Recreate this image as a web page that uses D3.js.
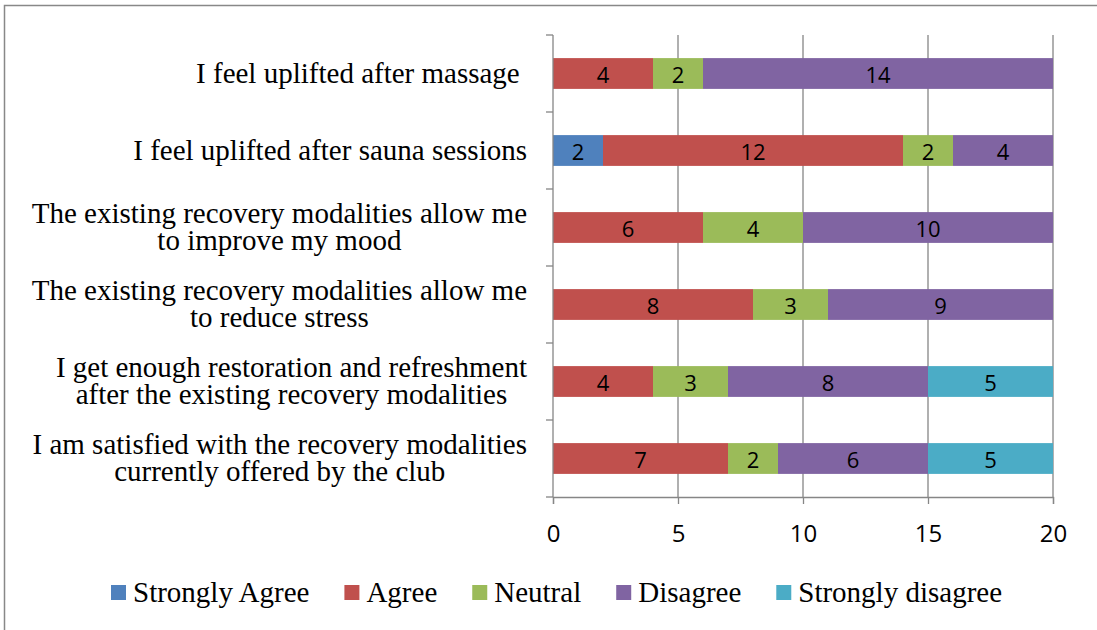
<!DOCTYPE html>
<html><head><meta charset="utf-8">
<script src="https://cdn.jsdelivr.net/npm/d3@7"></script>
<style>body{margin:0;background:#fff}svg{display:block}</style>
</head><body>
<svg id="c" width="1097" height="630"></svg>
<script>
const categories = [
  ["I feel uplifted after massage "],
  ["I feel uplifted after sauna sessions"],
  ["The existing recovery modalities allow me", "to improve my mood"],
  ["The existing recovery modalities allow me", "to reduce stress"],
  ["I get enough restoration and refreshment", "after the existing recovery modalities"],
  ["I am satisfied with the recovery modalities", "currently offered by the club"]
];
const seriesNames = ["Strongly Agree", "Agree", "Neutral", "Disagree", "Strongly disagree"];
const stronglyAgree = [0, 2, 0, 0, 0, 0];
const agree = [4, 12, 6, 8, 4, 7];
const neutral = [2, 2, 4, 3, 3, 2];
const disagree = [14, 4, 10, 9, 8, 6];
const stronglyDisagree = [0, 0, 0, 0, 5, 5];
const xTicks = [0, 5, 10, 15, 20];
const colors = ["#4F81BD", "#C0504D", "#9BBB59", "#8064A2", "#4BACC6"];

const series = [stronglyAgree, agree, neutral, disagree, stronglyDisagree];
const svg = d3.select("#c");
const serif = "'Liberation Serif','Times New Roman',serif";
const sans = "'Open Sans','Noto Sans',sans-serif";

svg.append("rect").attr("x", 4.5).attr("y", 5.5).attr("width", 1100).attr("height", 640)
  .attr("fill", "none").attr("stroke", "#888").attr("stroke-width", 1.5);

const x = d3.scaleLinear().domain([0, 20]).range([553, 1053]);
const idx = d3.range(categories.length);
const y = d3.scaleBand().domain(idx).range([35, 497]).paddingInner(0.6).paddingOuter(0.3);
const step = y.step();

// gridlines
svg.append("g").selectAll("line").data(xTicks.filter(t => t > 0)).join("line")
  .attr("x1", d => x(d)).attr("x2", d => x(d)).attr("y1", 35).attr("y2", 497)
  .attr("stroke", "#868686").attr("stroke-width", 1.3);

// bars
const rows = idx.map(i => {
  let acc = 0;
  return series.map((s, k) => { const seg = {i, k, x0: acc, x1: acc + s[i], v: s[i]}; acc += s[i]; return seg; });
});
const segs = rows.flat().filter(d => d.v > 0);
const g = svg.append("g");
g.selectAll("rect").data(segs).join("rect")
  .attr("x", d => x(d.x0)).attr("width", d => x(d.x1) - x(d.x0))
  .attr("y", d => y(d.i)).attr("height", y.bandwidth())
  .attr("fill", d => colors[d.k]);
g.selectAll("text").data(segs).join("text")
  .attr("x", d => (x(d.x0) + x(d.x1)) / 2).attr("y", d => y(d.i) + y.bandwidth() / 2 + 9.5)
  .attr("text-anchor", "middle")
  .attr("font-family", sans).attr("font-size", 22).attr("fill", "#000")
  .text(d => d.v);

// y axis
svg.append("line").attr("x1", 553).attr("x2", 553).attr("y1", 35).attr("y2", 497)
  .attr("stroke", "#868686").attr("stroke-width", 1.3);
svg.append("g").selectAll("line").data(d3.range(categories.length + 1)).join("line")
  .attr("x1", 546).attr("x2", 553).attr("y1", d => 35 + d * step).attr("y2", d => 35 + d * step)
  .attr("stroke", "#868686").attr("stroke-width", 1.3);

// x axis
const xa = svg.append("g").attr("transform", "translate(0,497)")
  .call(d3.axisBottom(x).tickValues(xTicks).tickSize(7).tickPadding(21));
xa.select(".domain").attr("stroke", "#868686").attr("stroke-width", 1.3);
xa.selectAll(".tick line").attr("stroke", "#868686").attr("stroke-width", 1.3);
xa.selectAll(".tick text").attr("font-family", sans).attr("font-size", 24).attr("fill", "#000");

// category labels (one text element per category, one tspan per line)
const lab = svg.append("g");
idx.forEach(i => {
  const lines = categories[i];
  const cy = y(i) + y.bandwidth() / 2;
  const lh = 27;
  const t = lab.append("text")
    .attr("font-family", serif).attr("font-size", 29).attr("fill", "#000")
    .attr("text-anchor", "middle").style("white-space", "pre");
  const ts = lines.map((l, j) => t.append("tspan")
    .attr("y", cy + 9 + (j - (lines.length - 1) / 2) * lh).text(l));
  const maxW = d3.max(ts, s => s.node().getComputedTextLength());
  ts.forEach(s => s.attr("x", 527 - maxW / 2));
});

// legend
const lg = svg.append("g");
let lx = 111;
seriesNames.forEach((n, k) => {
  lg.append("rect").attr("x", lx).attr("y", 585).attr("width", 15).attr("height", 15).attr("fill", colors[k]);
  const t = lg.append("text").attr("x", lx + 22).attr("y", 602)
    .attr("font-family", serif).attr("font-size", 29).attr("fill", "#000").text(n);
  lx += 22 + t.node().getComputedTextLength() + 35;
});
</script>
</body></html>
